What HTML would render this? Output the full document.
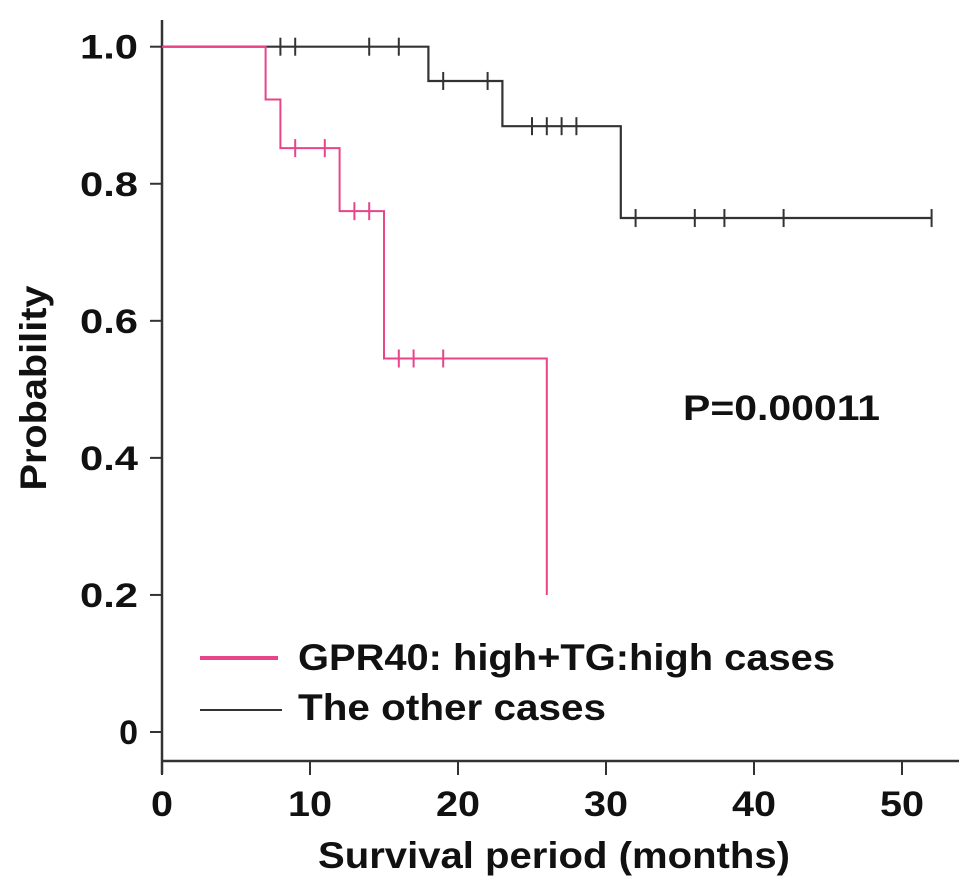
<!DOCTYPE html>
<html><head><meta charset="utf-8"><style>
html,body{margin:0;padding:0;background:#fff;}
svg{display:block;font-family:"Liberation Sans",Arial,sans-serif;font-weight:bold;}
</style></head><body>
<svg id="chart" width="976" height="895" viewBox="0 0 976 895"></svg>
<script>
const xTicks=[0,10,20,30,40,50];
const yTicks=[0,0.2,0.4,0.6,0.8,1.0];
const yTickLabels=["0","0.2","0.4","0.6","0.8","1.0"];
const redTimes=[0,7,8,12,15,26];
const redSurv=[1.0,0.923,0.852,0.76,0.545,0.2];
const redEnd=26;
const redCensorT=[9,11,13,14,16,17,19];
const redCensorS=[0.852,0.852,0.76,0.76,0.545,0.545,0.545];
const blackTimes=[0,18,23,31];
const blackSurv=[1.0,0.95,0.884,0.75];
const blackEnd=52;
const blackCensorT=[8,9,14,16,19,22,25,26,27,28,32,36,38,42,52];
const blackCensorS=[1,1,1,1,0.95,0.95,0.884,0.884,0.884,0.884,0.75,0.75,0.75,0.75,0.75];

const NS="http://www.w3.org/2000/svg";
const svg=document.getElementById('chart');
const X=t=>162+t*14.8;
const Y=p=>732-p*685.3;
function el(tag,attrs,parent){const e=document.createElementNS(NS,tag);for(const k in attrs)e.setAttribute(k,attrs[k]);(parent||svg).appendChild(e);return e;}

let a=el('line',{x1:162,y1:20,x2:162,y2:774,stroke:'#333','stroke-width':2.5});


a=el('line',{x1:162,y1:761,x2:959,y2:761,stroke:'#333','stroke-width':2.5});



xTicks.forEach(t=>{
  const l=el('line',{x1:X(t),y1:761,x2:X(t),y2:775,stroke:'#333','stroke-width':2});
  
  
  const tx=el('text',{x:X(t),y:816,'text-anchor':'middle','font-size':35,fill:'#111',textLength:(String(t).length*22),lengthAdjust:'spacingAndGlyphs'});
  tx.textContent=t;
  
  
});
yTicks.forEach((p,i)=>{
  const l=el('line',{x1:150,y1:Y(p),x2:162,y2:Y(p),stroke:'#333','stroke-width':2});
  
  
  const lab=yTickLabels[i];
  const attrs={x:138,y:Y(p)+12,'text-anchor':'end','font-size':34,fill:'#111'};
  if(lab.length>1){attrs.textLength=58;attrs.lengthAdjust='spacingAndGlyphs';}
  const tx=el('text',attrs);
  tx.textContent=lab;
  
  
});

function stepPath(times,surv,end){
  let d=`M${X(times[0])},${Y(surv[0])}`;
  for(let i=1;i<times.length;i++){d+=` H${X(times[i])} V${Y(surv[i])}`;}
  if(end>times[times.length-1]) d+=` H${X(end)}`;
  return d;
}
let p=el('path',{d:stepPath(blackTimes,blackSurv,blackEnd),fill:'none',stroke:'#333','stroke-width':2.2});


p=el('path',{d:stepPath(redTimes,redSurv,redEnd),fill:'none',stroke:'#e8448a','stroke-width':2});



blackCensorT.forEach((t,i)=>{
  const c=el('line',{x1:X(t),y1:Y(blackCensorS[i])-9,x2:X(t),y2:Y(blackCensorS[i])+9,stroke:'#333','stroke-width':2});
  
  
});
redCensorT.forEach((t,i)=>{
  const c=el('line',{x1:X(t),y1:Y(redCensorS[i])-9,x2:X(t),y2:Y(redCensorS[i])+9,stroke:'#e8448a','stroke-width':2});
  
  
});

let r=el('rect',{x:164,y:625,width:700,height:100,fill:'#fff'});


let l=el('line',{x1:200,y1:658,x2:278,y2:658,stroke:'#e8448a','stroke-width':4});


let t=el('text',{x:298,y:670,'font-size':37,fill:'#111',textLength:537,lengthAdjust:'spacingAndGlyphs'});t.textContent='GPR40: high+TG:high cases';


l=el('line',{x1:200,y1:710,x2:282,y2:710,stroke:'#333','stroke-width':2});


t=el('text',{x:298,y:720,'font-size':37,fill:'#111',textLength:308,lengthAdjust:'spacingAndGlyphs'});t.textContent='The other cases';



t=el('text',{x:683,y:420,'font-size':35,fill:'#111',textLength:197,lengthAdjust:'spacingAndGlyphs'});t.textContent='P=0.00011';


t=el('text',{x:318,y:868,'font-size':37,fill:'#111',textLength:472,lengthAdjust:'spacingAndGlyphs'});t.textContent='Survival period (months)';


t=el('text',{x:0,y:0,'text-anchor':'middle','font-size':37,fill:'#111',transform:'translate(46,388) rotate(-90)',textLength:205,lengthAdjust:'spacingAndGlyphs'});t.textContent='Probability';


</script>
</body></html>
